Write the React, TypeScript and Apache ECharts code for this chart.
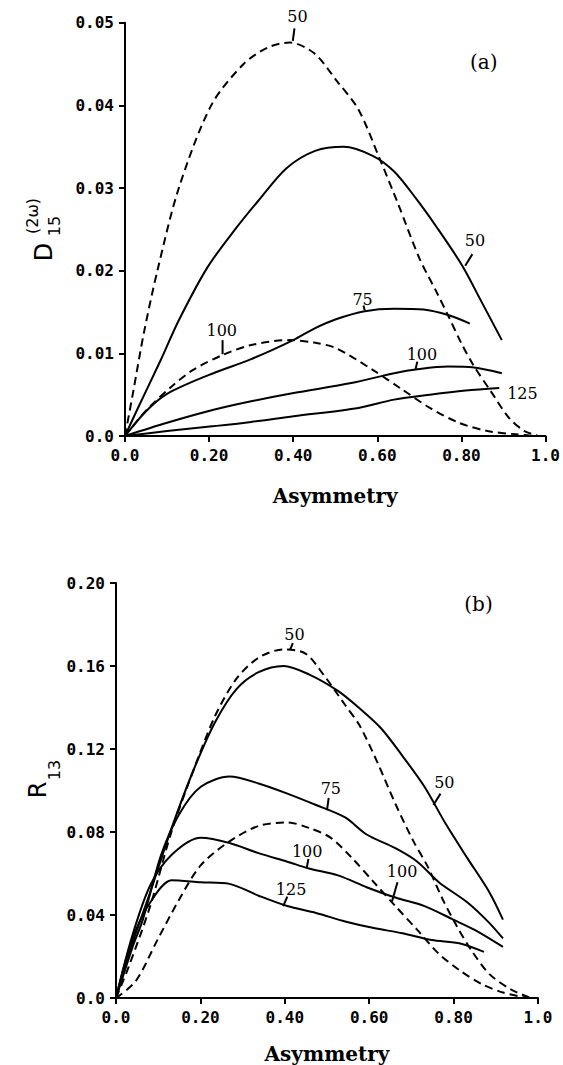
import React, { useEffect, useRef } from "react";
import * as echarts from "echarts";

// ---------- Panel (a): D15(2w) vs Asymmetry ----------
const aDash50X = [0, 0.02, 0.045, 0.077, 0.128, 0.205, 0.282, 0.34, 0.392, 0.45, 0.503, 0.555, 0.606, 0.65, 0.7, 0.74, 0.77, 0.8, 0.828, 0.87, 0.913, 0.95, 0.98];
const aDash50Y = [0, 0.0055, 0.0125, 0.02, 0.03, 0.04, 0.045, 0.047, 0.0476, 0.0463, 0.043, 0.0395, 0.0335, 0.028, 0.0215, 0.0175, 0.0144, 0.0112, 0.0086, 0.0054, 0.0022, 0.0006, 0.0001];

const aSolid50X = [0, 0.03, 0.085, 0.128, 0.196, 0.265, 0.316, 0.384, 0.452, 0.52, 0.589, 0.64, 0.691, 0.742, 0.802, 0.845, 0.896];
const aSolid50Y = [0, 0.0033, 0.0092, 0.014, 0.0204, 0.0252, 0.0284, 0.0324, 0.0345, 0.035, 0.0339, 0.032, 0.0288, 0.0252, 0.0206, 0.0165, 0.0116];

const aSolid75X = [0, 0.05, 0.1, 0.2, 0.3, 0.4, 0.45, 0.5, 0.57, 0.64, 0.71, 0.77, 0.82];
const aSolid75Y = [0, 0.003, 0.0051, 0.0074, 0.0093, 0.0116, 0.013, 0.0141, 0.0151, 0.0154, 0.0153, 0.0146, 0.0136];

const aDash100X = [0, 0.03, 0.06, 0.111, 0.162, 0.232, 0.3, 0.39, 0.45, 0.503, 0.589, 0.657, 0.725, 0.794, 0.862, 0.93, 0.98];
const aDash100Y = [0, 0.0019, 0.0036, 0.006, 0.008, 0.0098, 0.011, 0.0116, 0.0113, 0.0106, 0.008, 0.0057, 0.0034, 0.0016, 0.0006, 0.0002, 0];

const aSolid100X = [0, 0.1, 0.213, 0.3, 0.401, 0.538, 0.64, 0.7, 0.768, 0.83, 0.896];
const aSolid100Y = [0, 0.0016, 0.0032, 0.0042, 0.0052, 0.0064, 0.0076, 0.0081, 0.0084, 0.0083, 0.0076];

const aSolid125X = [0, 0.1, 0.213, 0.3, 0.401, 0.555, 0.64, 0.725, 0.81, 0.89];
const aSolid125Y = [0, 0.0006, 0.0012, 0.0017, 0.0024, 0.0034, 0.0044, 0.005, 0.0055, 0.0058];

// ---------- Panel (b): R13 vs Asymmetry ----------
const bSolid50X = [0, 0.04, 0.081, 0.132, 0.184, 0.235, 0.286, 0.338, 0.397, 0.457, 0.526, 0.577, 0.628, 0.679, 0.731, 0.782, 0.833, 0.885, 0.917];
const bSolid50Y = [0, 0.027, 0.0509, 0.082, 0.11, 0.133, 0.149, 0.157, 0.16, 0.156, 0.148, 0.1396, 0.13, 0.1166, 0.1018, 0.0837, 0.0673, 0.0509, 0.0378];

const bDash50X = [0, 0.03, 0.081, 0.132, 0.184, 0.235, 0.286, 0.338, 0.397, 0.449, 0.491, 0.543, 0.577, 0.62, 0.662, 0.705, 0.739, 0.774, 0.808, 0.842, 0.885, 0.936, 0.979];
const bDash50Y = [0, 0.015, 0.0443, 0.0805, 0.11, 0.136, 0.154, 0.164, 0.168, 0.166, 0.156, 0.1412, 0.1314, 0.1133, 0.0936, 0.0755, 0.0632, 0.0476, 0.0345, 0.023, 0.0115, 0.0041, 0.0003];

const bSolid75X = [0, 0.04, 0.064, 0.107, 0.15, 0.201, 0.269, 0.338, 0.406, 0.474, 0.543, 0.594, 0.662, 0.714, 0.765, 0.833, 0.885, 0.917];
const bSolid75Y = [0, 0.025, 0.038, 0.069, 0.0887, 0.1018, 0.1067, 0.1034, 0.0985, 0.093, 0.087, 0.0788, 0.0722, 0.0657, 0.0558, 0.046, 0.0361, 0.0287];

const bDash100X = [0, 0.047, 0.098, 0.15, 0.201, 0.269, 0.338, 0.406, 0.457, 0.509, 0.56, 0.611, 0.662, 0.714, 0.765, 0.816, 0.868, 0.919, 0.97];
const bDash100Y = [0, 0.0082, 0.0279, 0.0476, 0.064, 0.0755, 0.0829, 0.0846, 0.082, 0.0772, 0.0673, 0.0558, 0.0443, 0.0328, 0.0213, 0.0131, 0.0066, 0.0025, 0.0003];

const bSolid100X = [0, 0.038, 0.081, 0.132, 0.201, 0.269, 0.338, 0.406, 0.457, 0.526, 0.594, 0.662, 0.731, 0.799, 0.85, 0.917];
const bSolid100Y = [0, 0.0296, 0.0542, 0.069, 0.0772, 0.0747, 0.0698, 0.0657, 0.0624, 0.0591, 0.0534, 0.0484, 0.0443, 0.0378, 0.0328, 0.0246];

const bSolid125X = [0, 0.038, 0.081, 0.132, 0.201, 0.269, 0.338, 0.406, 0.474, 0.543, 0.611, 0.679, 0.748, 0.816, 0.872];
const bSolid125Y = [0, 0.028, 0.046, 0.0567, 0.0558, 0.055, 0.0493, 0.0443, 0.041, 0.0369, 0.0337, 0.0312, 0.0279, 0.0263, 0.0222];

// curve annotations: text position and leader line, in data units
const aLabels = [
  { text: "50", x: 0.41, y: 0.0507, lx1: 0.403, ly1: 0.0493, lx2: 0.399, ly2: 0.0478 },
  { text: "50", x: 0.832, y: 0.0236, lx1: 0.826, ly1: 0.022, lx2: 0.809, ly2: 0.0206 },
  { text: "75", x: 0.565, y: 0.0165, lx1: 0.567, ly1: 0.0158, lx2: 0.57, ly2: 0.0152 },
  { text: "100", x: 0.23, y: 0.0128, lx1: 0.232, ly1: 0.0116, lx2: 0.232, ly2: 0.0099 },
  { text: "100", x: 0.706, y: 0.0099, lx1: 0.695, ly1: 0.009, lx2: 0.691, ly2: 0.0081 },
  { text: "125", x: 0.945, y: 0.0051, lx1: null, ly1: null, lx2: null, ly2: null },
];
const bLabels = [
  { text: "50", x: 0.423, y: 0.175, lx1: 0.419, ly1: 0.171, lx2: 0.413, ly2: 0.168 },
  { text: "50", x: 0.778, y: 0.104, lx1: 0.769, ly1: 0.0985, lx2: 0.752, ly2: 0.093 },
  { text: "75", x: 0.509, y: 0.101, lx1: 0.504, ly1: 0.0964, lx2: 0.5, ly2: 0.0905 },
  { text: "100", x: 0.453, y: 0.0706, lx1: 0.456, ly1: 0.067, lx2: 0.452, ly2: 0.0628 },
  { text: "100", x: 0.678, y: 0.0608, lx1: 0.667, ly1: 0.0558, lx2: 0.654, ly2: 0.0465 },
  { text: "125", x: 0.415, y: 0.0525, lx1: 0.406, ly1: 0.0489, lx2: 0.396, ly2: 0.0443 },
];
const panelTags = [
  { text: "(a)", grid: 0, x: 0.853, y: 0.0453 },
  { text: "(b)", grid: 1, x: 0.859, y: 0.19 },
];

const xTickLabel = (v: number) => (v === 0 ? "0.0" : v === 1 ? "1.0" : v.toFixed(2));
const yTickLabel = (v: number) => (v === 0 ? "0.0" : v.toFixed(2));

function axisCommon(fmt: (v: number) => string) {
  return {
    type: "value",
    axisLine: { show: true, onZero: false, lineStyle: { color: "#000", width: 2 } },
    axisTick: { show: true, inside: false, length: 6, lineStyle: { color: "#000", width: 2 } },
    splitLine: { show: false },
    axisLabel: {
      color: "#000",
      fontFamily: "DejaVu Sans Mono",
      fontWeight: "bold",
      fontSize: 16,
      margin: 11,
      formatter: fmt,
    },
  };
}

function line(xs: number[], ys: number[], grid: number, dashed: boolean, name: string) {
  return {
    type: "line",
    name,
    xAxisIndex: grid,
    yAxisIndex: grid,
    data: xs.map((x, i) => [x, ys[i]]),
    showSymbol: false,
    symbol: "none",
    smooth: 0.3,
    lineStyle: { color: "#000", width: 2, type: dashed ? [8, 5] : "solid" },
    silent: true,
  };
}

export default function App() {
  const ref = useRef<HTMLDivElement>(null);
  useEffect(() => {
    if (!ref.current) return;
    const chart = echarts.init(ref.current, null, { renderer: "svg" });
    const nameStyle = {
      color: "#000",
      fontFamily: "DejaVu Serif",
      fontWeight: "bold",
      fontSize: 20,
    };
    chart.setOption({
      animation: false,
      backgroundColor: "#fff",
      grid: [
        { left: 125, top: 22.7, width: 422, height: 413.3 },
        { left: 116, top: 583, width: 422, height: 415 },
      ],
      xAxis: [
        { ...axisCommon(xTickLabel), gridIndex: 0, min: 0, max: 1, interval: 0.2, name: "Asymmetry", nameLocation: "middle", nameGap: 50, nameTextStyle: nameStyle },
        { ...axisCommon(xTickLabel), gridIndex: 1, min: 0, max: 1, interval: 0.2, name: "Asymmetry", nameLocation: "middle", nameGap: 46, nameTextStyle: nameStyle },
      ],
      yAxis: [
        { ...axisCommon(yTickLabel), gridIndex: 0, min: 0, max: 0.05, interval: 0.01 },
        { ...axisCommon(yTickLabel), gridIndex: 1, min: 0, max: 0.2, interval: 0.04 },
      ],
      series: [
        line(aDash50X, aDash50Y, 0, true, "a dashed 50"),
        line(aSolid50X, aSolid50Y, 0, false, "a solid 50"),
        line(aSolid75X, aSolid75Y, 0, false, "a solid 75"),
        line(aDash100X, aDash100Y, 0, true, "a dashed 100"),
        line(aSolid100X, aSolid100Y, 0, false, "a solid 100"),
        line(aSolid125X, aSolid125Y, 0, false, "a solid 125"),
        line(bSolid50X, bSolid50Y, 1, false, "b solid 50"),
        line(bDash50X, bDash50Y, 1, true, "b dashed 50"),
        line(bSolid75X, bSolid75Y, 1, false, "b solid 75"),
        line(bDash100X, bDash100Y, 1, true, "b dashed 100"),
        line(bSolid100X, bSolid100Y, 1, false, "b solid 100"),
        line(bSolid125X, bSolid125Y, 1, false, "b solid 125"),
      ],
    });

    const toPx = (g: number, x: number, y: number) => chart.convertToPixel({ gridIndex: g } as any, [x, y]) as number[];
    const graphics: any[] = [];
    const addLabels = (labels: any[], g: number) => {
      labels.forEach((l) => {
        const p = toPx(g, l.x, l.y);
        graphics.push({
          type: "text",
          x: p[0],
          y: p[1],
          style: { text: l.text, fill: "#000", font: "16px 'DejaVu Serif'", textAlign: "center", textVerticalAlign: "middle" },
        });
        if (l.lx1 !== null) {
          const p1 = toPx(g, l.lx1, l.ly1);
          const p2 = toPx(g, l.lx2, l.ly2);
          graphics.push({
            type: "line",
            shape: { x1: p1[0], y1: p1[1], x2: p2[0], y2: p2[1] },
            style: { stroke: "#000", lineWidth: 2 },
          });
        }
      });
    };
    addLabels(aLabels, 0);
    addLabels(bLabels, 1);
    panelTags.forEach((t) => {
      const p = toPx(t.grid, t.x, t.y);
      graphics.push({
        type: "text",
        x: p[0],
        y: p[1],
        style: { text: t.text, fill: "#000", font: "20px 'DejaVu Serif'", textAlign: "center", textVerticalAlign: "middle" },
      });
    });
    // y-axis titles (rotated, reading bottom to top)
    const rot = Math.PI / 2;
    const yTitles = [
      { text: "D", x: 44, y: 252, size: 24 },
      { text: "(2ω)", x: 32, y: 216, size: 16 },
      { text: "15", x: 54, y: 226, size: 16 },
      { text: "R", x: 38, y: 790, size: 24 },
      { text: "13", x: 54, y: 770, size: 16 },
    ];
    yTitles.forEach((t) => {
      graphics.push({
        type: "text",
        x: t.x,
        y: t.y,
        rotation: rot,
        style: { text: t.text, fill: "#000", font: `${t.size}px 'DejaVu Sans'`, textAlign: "center", textVerticalAlign: "middle" },
      });
    });
    chart.setOption({ graphic: graphics });

    return () => chart.dispose();
  }, []);
  return <div ref={ref} style={{ position: "absolute", left: 0, top: 0, width: 563, height: 1065 }} />;
}
